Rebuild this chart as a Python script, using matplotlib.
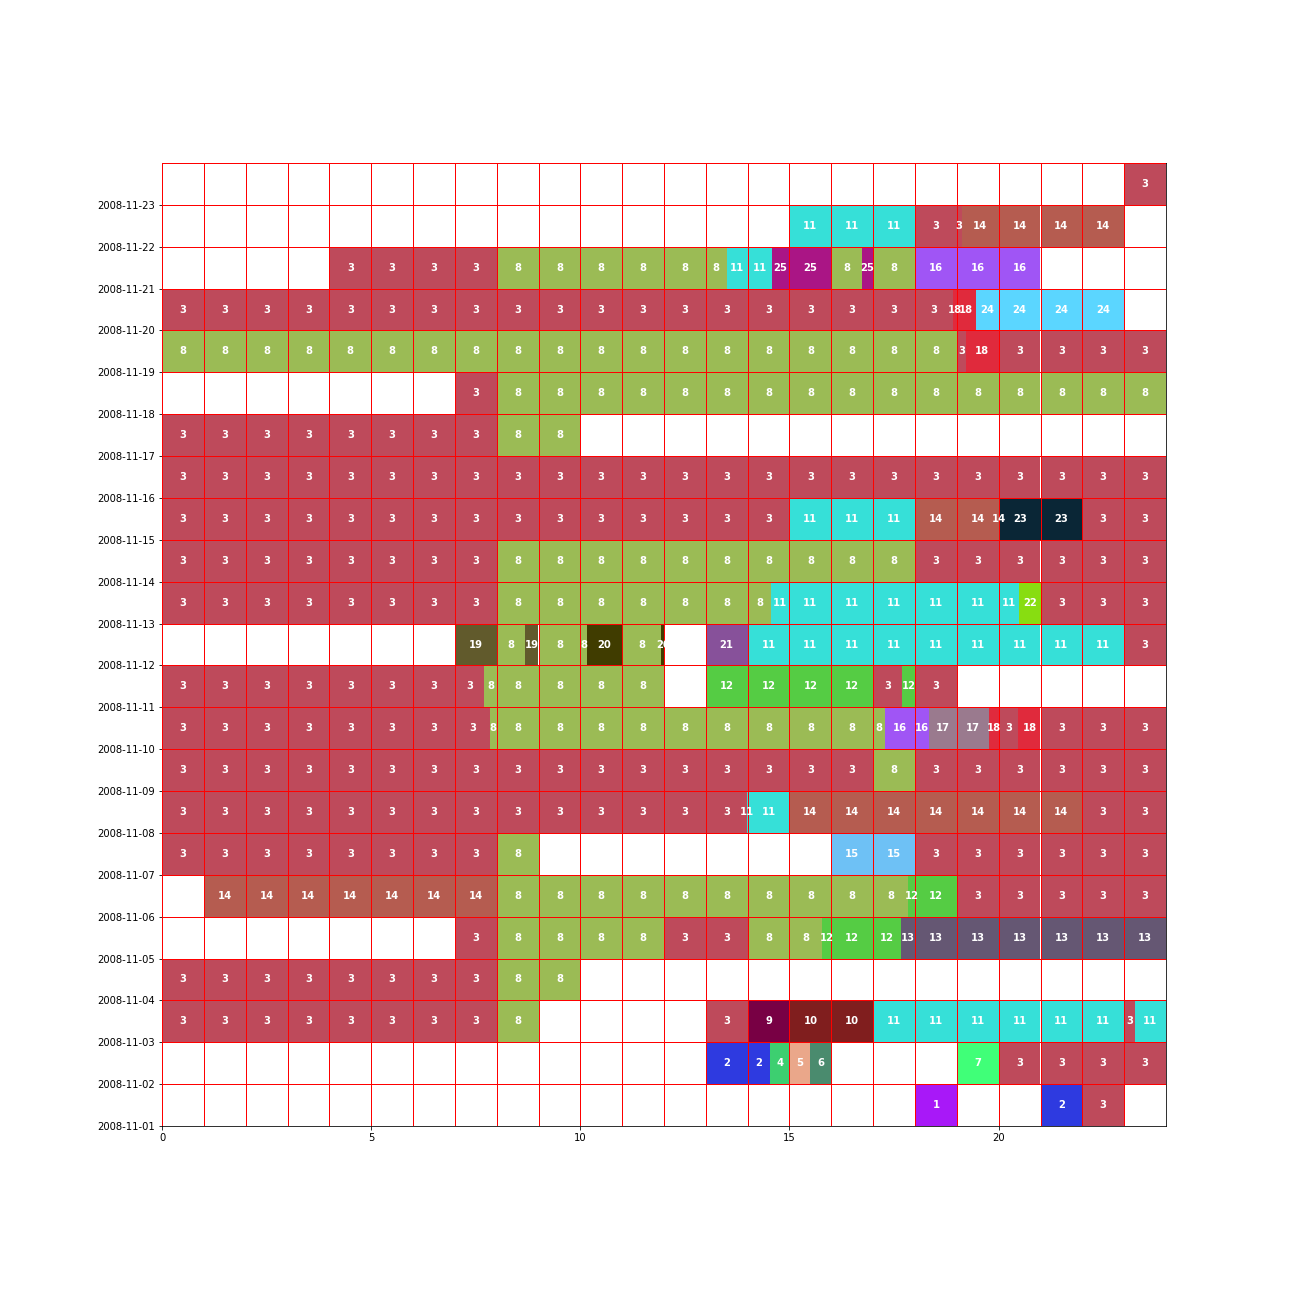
import datetime
import matplotlib
matplotlib.use("Agg")
import matplotlib.pyplot as plt
import matplotlib.dates as mdates

# cluster id -> colour
cluster_colors = {
    1: "#A818F8", 2: "#2E3AE0", 3: "#BE4A5B", 4: "#3DCF70", 5: "#EAA78A",
    6: "#4A8B6E", 7: "#40FF78", 8: "#9BBB55", 9: "#780044", 10: "#801E1E",
    11: "#36E0D8", 12: "#55CC44", 13: "#655773", 14: "#B55C50", 15: "#6EC1F5",
    16: "#A055F5", 17: "#9A7A8E", 18: "#E02A3C", 19: "#615A2C", 20: "#403C00",
    21: "#87519A", 22: "#88DD11", 23: "#0A2636", 24: "#5BD6FF", 25: "#AA1585",
}

# each day: (start hour, end hour, cluster)
nov01 = [(18, 19, 1), (21, 22, 2), (22, 23, 3)]
nov02 = [(13, 14.53, 2), (14.53, 15, 4), (15, 15.5, 5), (15.5, 16, 6), (19, 20, 7), (20, 24, 3)]
nov03 = [(0, 8, 3), (8, 9, 8), (13, 14, 3), (14, 15, 9), (15, 17, 10), (17, 23, 11),
         (23, 23.25, 3), (23.25, 24, 11)]
nov04 = [(0, 8, 3), (8, 10, 8)]
nov05 = [(7, 8, 3), (8, 12, 8), (12, 14, 3), (14, 15.77, 8), (15.77, 17.66, 12), (17.66, 24, 13)]
nov06 = [(1, 8, 14), (8, 17.83, 8), (17.83, 19, 12), (19, 24, 3)]
nov07 = [(0, 8, 3), (8, 9, 8), (16, 18, 15), (18, 24, 3)]
nov08 = [(0, 13.98, 3), (13.98, 15, 11), (15, 22, 14), (22, 24, 3)]
nov09 = [(0, 17, 3), (17, 18, 8), (18, 24, 3)]
nov10 = [(0, 7.84, 3), (7.84, 17.28, 8), (17.28, 18.33, 16), (18.33, 19.76, 17), (19.76, 20, 18),
         (20, 20.47, 3), (20.47, 21, 18), (21, 24, 3)]
nov11 = [(0, 7.70, 3), (7.70, 12, 8), (13, 17, 12), (17, 17.69, 3), (17.69, 18, 12), (18, 19, 3)]
nov12 = [(7, 8, 19), (8, 8.68, 8), (8.68, 9, 19), (9, 10.16, 8), (10.16, 11, 20), (11, 11.94, 8),
         (11.94, 12, 20), (13, 14, 21), (14, 23, 11), (23, 24, 3)]
nov13 = [(0, 8, 3), (8, 14.56, 8), (14.56, 20.49, 11), (20.49, 21, 22), (21, 24, 3)]
nov14 = [(0, 8, 3), (8, 18, 8), (18, 24, 3)]
nov15 = [(0, 15, 3), (15, 18, 11), (18, 20.03, 14), (20.03, 22, 23), (22, 24, 3)]
nov16 = [(0, 24, 3)]
nov17 = [(0, 8, 3), (8, 10, 8)]
nov18 = [(7, 8, 3), (8, 24, 8)]
nov19 = [(0, 19, 8), (19, 19.22, 3), (19.22, 20, 18), (20, 24, 3)]
nov20 = [(0, 18.91, 3), (18.91, 19.45, 18), (19.45, 23, 24)]
nov21 = [(4, 8, 3), (8, 13.5, 8), (13.5, 14.57, 11), (14.57, 16, 25), (16, 16.73, 8),
         (16.73, 17, 25), (17, 18, 8), (18, 21, 16)]
nov22 = [(15, 18, 11), (18, 19.115, 3), (19.115, 23, 14)]
nov23 = [(23, 24, 3)]

rows = [nov01, nov02, nov03, nov04, nov05, nov06, nov07, nov08, nov09, nov10, nov11, nov12,
        nov13, nov14, nov15, nov16, nov17, nov18, nov19, nov20, nov21, nov22, nov23]
first_day = datetime.date(2008, 11, 1)

fig = plt.figure(figsize=(18, 18), dpi=72)
ax = fig.add_axes([162 / 1296, 170 / 1296, 1004 / 1296, 963 / 1296])

for i, segs in enumerate(rows):
    y = mdates.date2num(first_day + datetime.timedelta(days=i))
    for start, end, c in segs:
        # split every run at whole hours, one label per piece
        a = start
        while a < end - 1e-9:
            b = min(end, int(a) + 1)
            ax.barh(y, b - a, left=a, height=1, align="edge",
                    color=cluster_colors[c], linewidth=0, zorder=1)
            ax.text((a + b) / 2, y + 0.5, str(c), color="white", fontsize=10,
                    fontweight="bold", ha="center", va="center", zorder=4)
            a = b

y0 = mdates.date2num(first_day)
y1 = y0 + 23
for h in range(25):
    ax.plot([h, h], [y0, y1], color="red", lw=1, zorder=3)
for d in range(24):
    ax.plot([0, 24], [y0 + d, y0 + d], color="red", lw=1, zorder=3)

ax.set_xlim(0, 24)
ax.set_ylim(y0, y1)
ax.set_xticks([0, 5, 10, 15, 20])
ax.set_yticks([y0 + d for d in range(23)])
ax.yaxis.set_major_formatter(mdates.DateFormatter("%Y-%m-%d"))
ax.tick_params(labelsize=10)

fig.savefig("out.png", dpi=72)
